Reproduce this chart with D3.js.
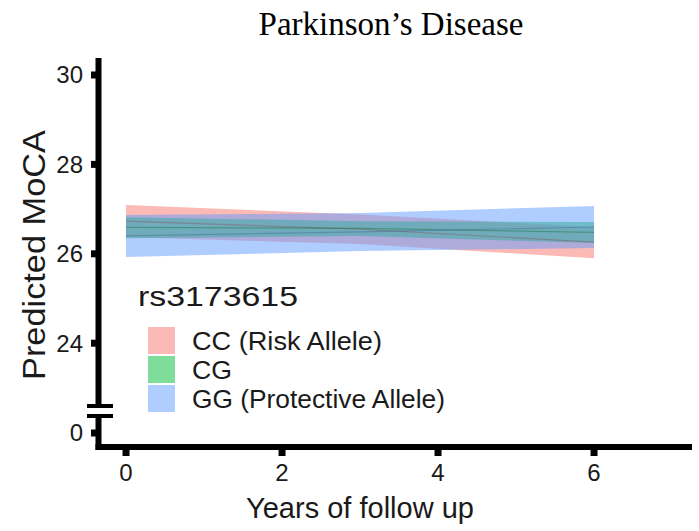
<!DOCTYPE html>
<html>
<head>
<meta charset="utf-8">
<script src="https://cdn.jsdelivr.net/npm/d3@7"></script>
<style>
  body { margin: 0; background: #fff; }
  text { font-family: "Liberation Sans", Arial, sans-serif; fill: #1a1a1a; }
</style>
</head>
<body>
<div id="chart"></div>
<script>
//-------------------------------------
// data
//-------------------------------------
var years = [0, 3, 6];

var ccMean = [26.73, 26.55, 26.26];
var ccLow  = [26.37, 26.22, 25.90];
var ccHigh = [27.09, 26.88, 26.60];

var cgMean = [26.59, 26.57, 26.48];
var cgLow  = [26.35, 26.40, 26.24];
var cgHigh = [26.82, 26.73, 26.71];

var ggMean = [26.40, 26.49, 26.60];
var ggLow  = [25.93, 26.06, 26.13];
var ggHigh = [26.87, 26.91, 27.07];

var groups = ["CC (Risk Allele)", "CG", "GG (Protective Allele)"];
var colors = ["#F8766D", "#00BA38", "#619CFF"];

var xTicks = [0, 2, 4, 6];
var yTicks = [24, 26, 28, 30];
var yLowTicks = [0];

//-------------------------------------
// field
//-------------------------------------
var width = 699;
var height = 531;

var svg = d3.select("#chart")
	.append("svg")
	.attr("width", width)
	.attr("height", height);

var x = d3.scaleLinear().domain([-0.385, 7.256]).range([96, 692]);
// upper part of the broken axis
var y = d3.scaleLinear().domain([22.64, 30.38]).range([404, 58]);
// lower part (just the zero)
var yLow = d3.scaleLinear().domain([-0.37, 0.37]).range([450, 416]);

//-------------------------------------
// ribbons + lines
//-------------------------------------
var series = [
	{ mean: ccMean, low: ccLow, high: ccHigh },
	{ mean: cgMean, low: cgLow, high: cgHigh },
	{ mean: ggMean, low: ggLow, high: ggHigh }
];

var area = d3.area()
	.x(function(d){ return x(d.t); })
	.y0(function(d){ return y(d.lo); })
	.y1(function(d){ return y(d.hi); });

var line = d3.line()
	.x(function(d){ return x(d.t); })
	.y(function(d){ return y(d.m); });

series.forEach(function(s, k){
	var pts = years.map(function(t, i){
		return { t: t, m: s.mean[i], lo: s.low[i], hi: s.high[i] };
	});
	s.pts = pts;
	svg.append("path")
		.datum(pts)
		.attr("d", area)
		.style("fill", colors[k])
		.style("fill-opacity", 0.5);
});

series.forEach(function(s, k){
	svg.append("path")
		.datum(s.pts)
		.attr("d", line)
		.style("fill", "none")
		.style("stroke", d3.color(colors[k]).darker(1.6))
		.style("stroke-opacity", 0.35)
		.style("stroke-width", 1.2);
});

//-------------------------------------
// axes (drawn by hand, thick lines)
//-------------------------------------
var axisG = svg.append("g").style("stroke", "#000");

// y axis, two pieces with a break
axisG.append("line")
	.attr("x1", 98.5).attr("x2", 98.5)
	.attr("y1", 58).attr("y2", 406)
	.style("stroke-width", 6);
axisG.append("line")
	.attr("x1", 98.5).attr("x2", 98.5)
	.attr("y1", 416).attr("y2", 450)
	.style("stroke-width", 6);
[406, 416].forEach(function(b){
	axisG.append("line")
		.attr("x1", 87).attr("x2", 113)
		.attr("y1", b).attr("y2", b)
		.style("stroke-width", 4);
});

// x axis
axisG.append("line")
	.attr("x1", 95.5).attr("x2", 692)
	.attr("y1", 447).attr("y2", 447)
	.style("stroke-width", 6);

// y ticks
axisG.selectAll(".ytick")
	.data(yTicks)
	.enter()
	.append("line")
	.attr("x1", 91).attr("x2", 98)
	.attr("y1", function(d){ return y(d); })
	.attr("y2", function(d){ return y(d); })
	.style("stroke-width", 7);
axisG.selectAll(".ytick0")
	.data(yLowTicks)
	.enter()
	.append("line")
	.attr("x1", 91).attr("x2", 98)
	.attr("y1", function(d){ return yLow(d); })
	.attr("y2", function(d){ return yLow(d); })
	.style("stroke-width", 7);

// x ticks
axisG.selectAll(".xtick")
	.data(xTicks)
	.enter()
	.append("line")
	.attr("x1", function(d){ return x(d); })
	.attr("x2", function(d){ return x(d); })
	.attr("y1", 448).attr("y2", 456)
	.style("stroke-width", 7);

// tick labels
svg.selectAll(".ylab")
	.data(yTicks)
	.enter()
	.append("text")
	.attr("x", 83)
	.attr("y", function(d){ return y(d); })
	.attr("dy", "0.35em")
	.attr("text-anchor", "end")
	.style("font-size", "24px")
	.text(function(d){ return d; });
svg.selectAll(".ylab0")
	.data(yLowTicks)
	.enter()
	.append("text")
	.attr("x", 83)
	.attr("y", function(d){ return yLow(d); })
	.attr("dy", "0.35em")
	.attr("text-anchor", "end")
	.style("font-size", "24px")
	.text(function(d){ return d; });

svg.selectAll(".xlab")
	.data(xTicks)
	.enter()
	.append("text")
	.attr("x", function(d){ return x(d); })
	.attr("y", 481)
	.attr("text-anchor", "middle")
	.style("font-size", "24px")
	.text(function(d){ return d; });

// axis titles
svg.append("text")
	.attr("x", 360)
	.attr("y", 518)
	.attr("text-anchor", "middle")
	.style("font-size", "29px")
	.text("Years of follow up");

svg.append("text")
	.attr("transform", "translate(45,255) rotate(-90)")
	.attr("text-anchor", "middle")
	.attr("textLength", 250)
	.attr("lengthAdjust", "spacingAndGlyphs")
	.style("font-size", "32px")
	.text("Predicted MoCA");

// title
svg.append("text")
	.attr("x", 391)
	.attr("y", 35)
	.attr("text-anchor", "middle")
	.style("font-family", "'Liberation Serif', 'Times New Roman', serif")
	.style("font-size", "33px")
	.style("fill", "#000")
	.text("Parkinson\u2019s Disease");

//-------------------------------------
// legend
//-------------------------------------
svg.append("text")
	.attr("x", 138)
	.attr("y", 306)
	.attr("textLength", 160)
	.attr("lengthAdjust", "spacingAndGlyphs")
	.style("font-size", "28px")
	.text("rs3173615");

var legendLen = [190, 40, 253];
var legend = svg.append("g");
legend.selectAll("rect")
	.data(groups)
	.enter()
	.append("rect")
	.attr("x", 148)
	.attr("y", function(d, i){ return 327 + i * 29; })
	.attr("width", 27)
	.attr("height", 27)
	.style("fill", function(d, i){ return colors[i]; })
	.style("fill-opacity", 0.5);
legend.selectAll("text")
	.data(groups)
	.enter()
	.append("text")
	.attr("x", 192)
	.attr("y", function(d, i){ return 340.5 + i * 29; })
	.attr("dy", "0.36em")
	.attr("textLength", function(d, i){ return legendLen[i]; })
	.attr("lengthAdjust", "spacingAndGlyphs")
	.style("font-size", "25px")
	.text(function(d){ return d; });
</script>
</body>
</html>
